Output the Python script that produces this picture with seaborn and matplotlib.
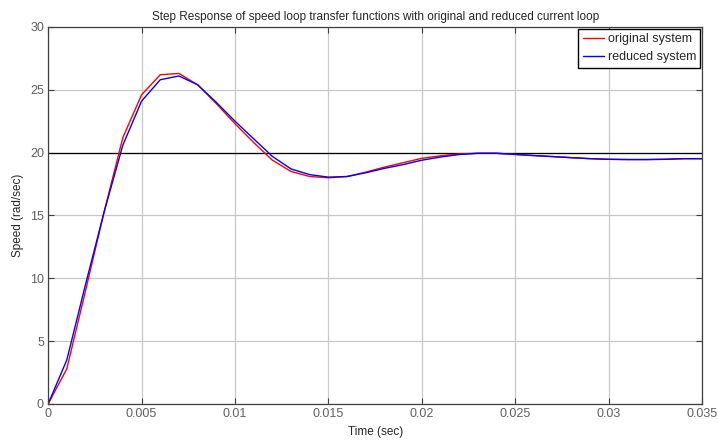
import numpy as np
import pandas as pd
import matplotlib
matplotlib.use("Agg")
import matplotlib.pyplot as plt
import seaborn as sns

# sample times (sec)
time = [0.000, 0.001, 0.002, 0.003, 0.004, 0.005, 0.006, 0.007, 0.008, 0.009,
        0.010, 0.011, 0.012, 0.013, 0.014, 0.015, 0.016, 0.017, 0.018, 0.019,
        0.020, 0.021, 0.022, 0.023, 0.024, 0.025, 0.026, 0.027, 0.028, 0.029,
        0.030, 0.031, 0.032, 0.033, 0.034, 0.035]

original = [0.0, 2.8, 9.0, 15.3, 21.2, 24.6, 26.2, 26.3, 25.4, 23.9,
            22.3, 20.8, 19.4, 18.5, 18.1, 18.0, 18.1, 18.45, 18.85, 19.2,
            19.55, 19.75, 19.9, 19.95, 19.95, 19.85, 19.76, 19.68, 19.6, 19.52,
            19.47, 19.45, 19.45, 19.47, 19.52, 19.52]

reduced = [0.0, 3.5, 9.5, 15.3, 20.6, 24.1, 25.8, 26.1, 25.4, 24.0,
           22.5, 21.1, 19.7, 18.7, 18.25, 18.05, 18.1, 18.4, 18.75, 19.05,
           19.4, 19.65, 19.85, 19.95, 19.95, 19.86, 19.77, 19.69, 19.6, 19.52,
           19.47, 19.45, 19.45, 19.47, 19.52, 19.52]

series_names = ["original system", "reduced system"]
reference = 20

df = pd.DataFrame({
    "t": time + time,
    "speed": original + reduced,
    "system": [series_names[0]] * len(time) + [series_names[1]] * len(time),
})

sns.set_style("whitegrid", {"grid.color": "#c8c8c8", "axes.edgecolor": "#404040"})
plt.rcParams["font.family"] = ["Liberation Sans", "DejaVu Sans"]

fig = plt.figure(figsize=(7.18, 4.42), dpi=100)
ax = fig.add_axes([0.067, 0.086, 0.911, 0.853])

sns.lineplot(data=df, x="t", y="speed", hue="system",
             palette=["#ff0000", "#0000ff"], linewidth=1.0, ax=ax)
ax.axhline(reference, color="black", linewidth=0.9, zorder=1)

ax.set_xlim(0, 0.035)
ax.set_ylim(0, 30)
ax.set_xticks(np.arange(0, 0.0351, 0.005))
ax.set_xticklabels(["0", "0.005", "0.01", "0.015", "0.02", "0.025", "0.03", "0.035"])
ax.set_yticks(range(0, 31, 5))
ax.tick_params(which="both", direction="in", length=4, width=0.8, color="#404040",
               labelcolor="#606060", labelsize=9, pad=3,
               top=True, right=True, bottom=True, left=True)
ax.grid(True, color="#c8c8c8", linewidth=0.9)
for s in ax.spines.values():
    s.set_linewidth(0.9)
    s.set_color("#404040")

ax.set_xlabel("Time (sec)", fontsize=8.5, labelpad=4)
ax.set_ylabel("Speed (rad/sec)", fontsize=8.5, labelpad=4)
ax.set_title("Step Response of speed loop transfer functions with original and reduced current loop",
             fontsize=8.5, pad=5)

leg = ax.legend(loc="upper right", fontsize=9, frameon=True, fancybox=False,
                borderaxespad=0.15, handlelength=1.7, borderpad=0.35,
                labelspacing=0.5, handletextpad=0.3)
leg.get_frame().set_edgecolor("black")
leg.get_frame().set_linewidth(1.0)
leg.get_frame().set_alpha(1.0)

fig.savefig("out.png", dpi=100)
